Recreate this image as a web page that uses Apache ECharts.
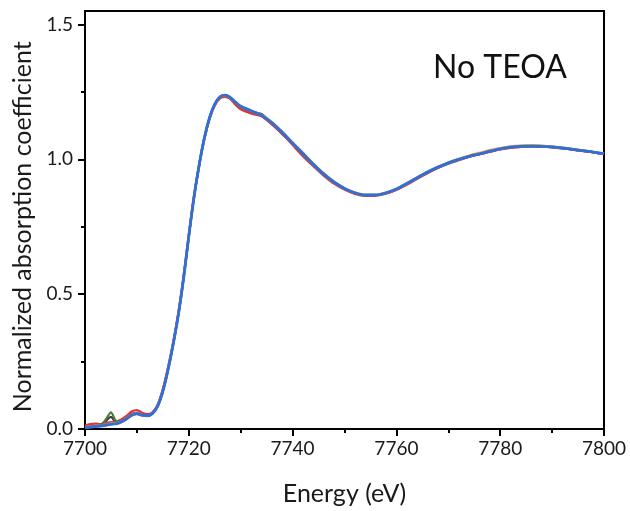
<!DOCTYPE html>
<html>
<head>
<meta charset="utf-8">
<script src="https://cdn.jsdelivr.net/npm/echarts@6/dist/echarts.min.js"></script>
<style>html,body{margin:0;padding:0;background:#fff}#c{width:630px;height:511px}</style>
</head>
<body>
<div id="c"></div>
<script>
const energy = [7700,7701,7702,7703,7704,7705,7706,7707,7708,7709,7710,7711,7712,7713,7714,7715,7716,7717,7718,7719,7720,7721,7722,7723,7724,7725,7726,7727,7728,7729,7730,
  7732,7734,7736,7738,7740,7742,7744,7746,7748,7750,7752,7754,7756,7758,7760,7762,7764,7766,7768,7770,7772,7774,7776,7778,7780,7782,7784,7786,7788,7790,7792,7794,7796,7798,7800];

const scanDark = [0.008,0.010,0.012,0.015,0.030,0.045,0.025,0.030,0.040,0.055,0.060,0.052,0.050,0.058,0.086,0.142,0.222,0.318,0.428,0.562,0.716,0.860,0.978,1.078,1.153,1.203,1.230,1.236,1.225,1.208,1.194,
  1.176,1.168,1.132,1.094,1.056,1.017,0.978,0.943,0.913,0.890,0.874,0.867,0.867,0.875,0.889,0.909,0.931,0.952,0.970,0.986,0.999,1.010,1.019,1.029,1.038,1.044,1.047,1.048,1.047,1.045,1.041,1.036,1.031,1.026,1.020];

const scanRed = [0.012,0.018,0.020,0.018,0.022,0.025,0.028,0.035,0.048,0.065,0.070,0.060,0.055,0.062,0.090,0.148,0.228,0.322,0.432,0.565,0.718,0.862,0.978,1.075,1.150,1.200,1.226,1.232,1.224,1.203,1.186,
  1.170,1.160,1.130,1.096,1.054,1.012,0.975,0.940,0.910,0.888,0.872,0.865,0.866,0.873,0.887,0.906,0.928,0.949,0.968,0.984,0.997,1.009,1.019,1.028,1.037,1.043,1.046,1.048,1.047,1.045,1.041,1.036,1.031,1.026,1.020];

const scanGreen = [0.006,0.009,0.011,0.014,0.035,0.062,0.030,0.028,0.038,0.050,0.056,0.050,0.049,0.057,0.084,0.139,0.219,0.314,0.424,0.559,0.714,0.859,0.979,1.079,1.154,1.204,1.231,1.236,1.228,1.210,1.195,
  1.178,1.162,1.135,1.100,1.062,1.024,0.984,0.948,0.917,0.893,0.876,0.866,0.866,0.874,0.889,0.909,0.931,0.951,0.969,0.985,0.999,1.011,1.021,1.031,1.040,1.046,1.050,1.051,1.050,1.047,1.043,1.038,1.032,1.027,1.021];

const scanOrange = [0.007,0.010,0.012,0.013,0.016,0.020,0.022,0.028,0.040,0.054,0.060,0.053,0.051,0.059,0.086,0.141,0.221,0.316,0.426,0.561,0.716,0.861,0.980,1.079,1.154,1.204,1.231,1.237,1.229,1.211,1.196,
  1.180,1.165,1.138,1.102,1.061,1.021,0.981,0.946,0.916,0.893,0.877,0.869,0.869,0.877,0.891,0.911,0.933,0.954,0.972,0.988,1.002,1.014,1.024,1.034,1.042,1.048,1.051,1.052,1.050,1.047,1.043,1.038,1.033,1.027,1.021];

const scanPurple = [0.004,0.006,0.008,0.010,0.012,0.025,0.018,0.025,0.036,0.050,0.055,0.050,0.048,0.057,0.084,0.139,0.219,0.314,0.424,0.559,0.714,0.859,0.979,1.079,1.154,1.204,1.231,1.237,1.229,1.211,1.196,
  1.179,1.162,1.135,1.099,1.059,1.019,0.979,0.944,0.914,0.891,0.875,0.867,0.867,0.875,0.889,0.909,0.931,0.952,0.970,0.986,0.999,1.010,1.019,1.029,1.038,1.044,1.047,1.048,1.047,1.045,1.041,1.036,1.031,1.026,1.020];

const scanBlue = [0.005,0.008,0.010,0.012,0.014,0.017,0.020,0.027,0.038,0.052,0.058,0.052,0.050,0.058,0.085,0.140,0.220,0.315,0.425,0.560,0.715,0.860,0.980,1.080,1.155,1.205,1.232,1.238,1.230,1.212,1.197,
  1.180,1.163,1.136,1.100,1.060,1.020,0.980,0.945,0.915,0.892,0.876,0.868,0.868,0.876,0.890,0.910,0.932,0.953,0.971,0.987,1.000,1.011,1.020,1.030,1.039,1.045,1.048,1.049,1.048,1.046,1.042,1.037,1.032,1.027,1.021];

const xRange = [7700, 7800];
const xStep = 20;
const yRange = [0, 1.55];
const yTickRange = [0, 1.5];
const yStep = 0.5;
const panelLabel = 'No TEOA';
const xTitle = 'Energy (eV)';
const yTitle = 'Normalized absorption coefficient';

const scans = [
  {data: scanDark, color: '#3a3a3a', w: 2.2},
  {data: scanRed, color: '#e2342e', w: 2.4},
  {data: scanGreen, color: '#4e7d3a', w: 2.2},
  {data: scanPurple, color: '#9b62c4', w: 2.2},
  {data: scanOrange, color: '#e8a23a', w: 2.2},
  {data: scanBlue, color: '#2f6fd6', w: 2.8}
];

const FONT = 'Lato';
const L = 85, R = 26, T = 11, B = 82, H = 511;
const plotH = H - T - B;
// top of the tick-only grid so that its 0..1.5 range lines up with the 0..1.55 data grid
const T2 = T + plotH * (1 - yTickRange[1] / yRange[1]);

const chart = echarts.init(document.getElementById('c'), null, {renderer: 'canvas'});
chart.setOption({
  animation: false,
  backgroundColor: '#fff',
  grid: [
    {left: L, right: R, top: T, bottom: B, show: true, borderColor: '#000', borderWidth: 2, backgroundColor: 'transparent'},
    {left: L, right: R, top: T2, bottom: B, show: false}
  ],
  xAxis: [{
    gridIndex: 0, type: 'value', min: xRange[0], max: xRange[1], interval: xStep,
    name: xTitle, nameLocation: 'middle', nameGap: 52,
    nameTextStyle: {fontFamily: FONT, fontSize: 25, color: '#1a1a1a'},
    axisLine: {show: true, lineStyle: {color: '#000', width: 2}},
    axisTick: {show: true, inside: false, length: 7, lineStyle: {color: '#000', width: 2}},
    minorTick: {show: true, splitNumber: 2, length: 4, lineStyle: {color: '#000', width: 2}},
    axisLabel: {fontFamily: FONT, fontSize: 19, color: '#1a1a1a', margin: 10, formatter: v => String(v)},
    splitLine: {show: false}
  }, {
    gridIndex: 1, type: 'value', min: 0, max: 1, show: false
  }],
  yAxis: [{
    gridIndex: 0, type: 'value', min: yRange[0], max: yRange[1],
    axisLine: {show: true, lineStyle: {color: '#000', width: 2}},
    axisTick: {show: false}, minorTick: {show: false}, axisLabel: {show: false},
    splitLine: {show: false}
  }, {
    gridIndex: 1, type: 'value', min: yTickRange[0], max: yTickRange[1], interval: yStep,
    name: yTitle, nameLocation: 'middle', nameGap: 50,
    nameTextStyle: {fontFamily: FONT, fontSize: 25, color: '#1a1a1a'},
    axisLine: {show: false},
    axisTick: {show: true, inside: false, length: 7, lineStyle: {color: '#000', width: 2}},
    minorTick: {show: true, splitNumber: 2, length: 4, lineStyle: {color: '#000', width: 2}},
    axisLabel: {fontFamily: FONT, fontSize: 19, color: '#1a1a1a', margin: 12, formatter: v => v.toFixed(1)},
    splitLine: {show: false}
  }],
  graphic: [{
    type: 'text', left: 433, top: 52,
    style: {text: panelLabel, fontFamily: FONT, fontSize: 32, fill: '#111'}
  }],
  series: scans.map(s => ({
    type: 'line', xAxisIndex: 0, yAxisIndex: 0,
    data: energy.map((e, i) => [e, s.data[i]]),
    showSymbol: false, smooth: 0.3,
    lineStyle: {color: s.color, width: s.w},
    itemStyle: {color: s.color},
    clip: true
  }))
});
</script>
</body>
</html>
